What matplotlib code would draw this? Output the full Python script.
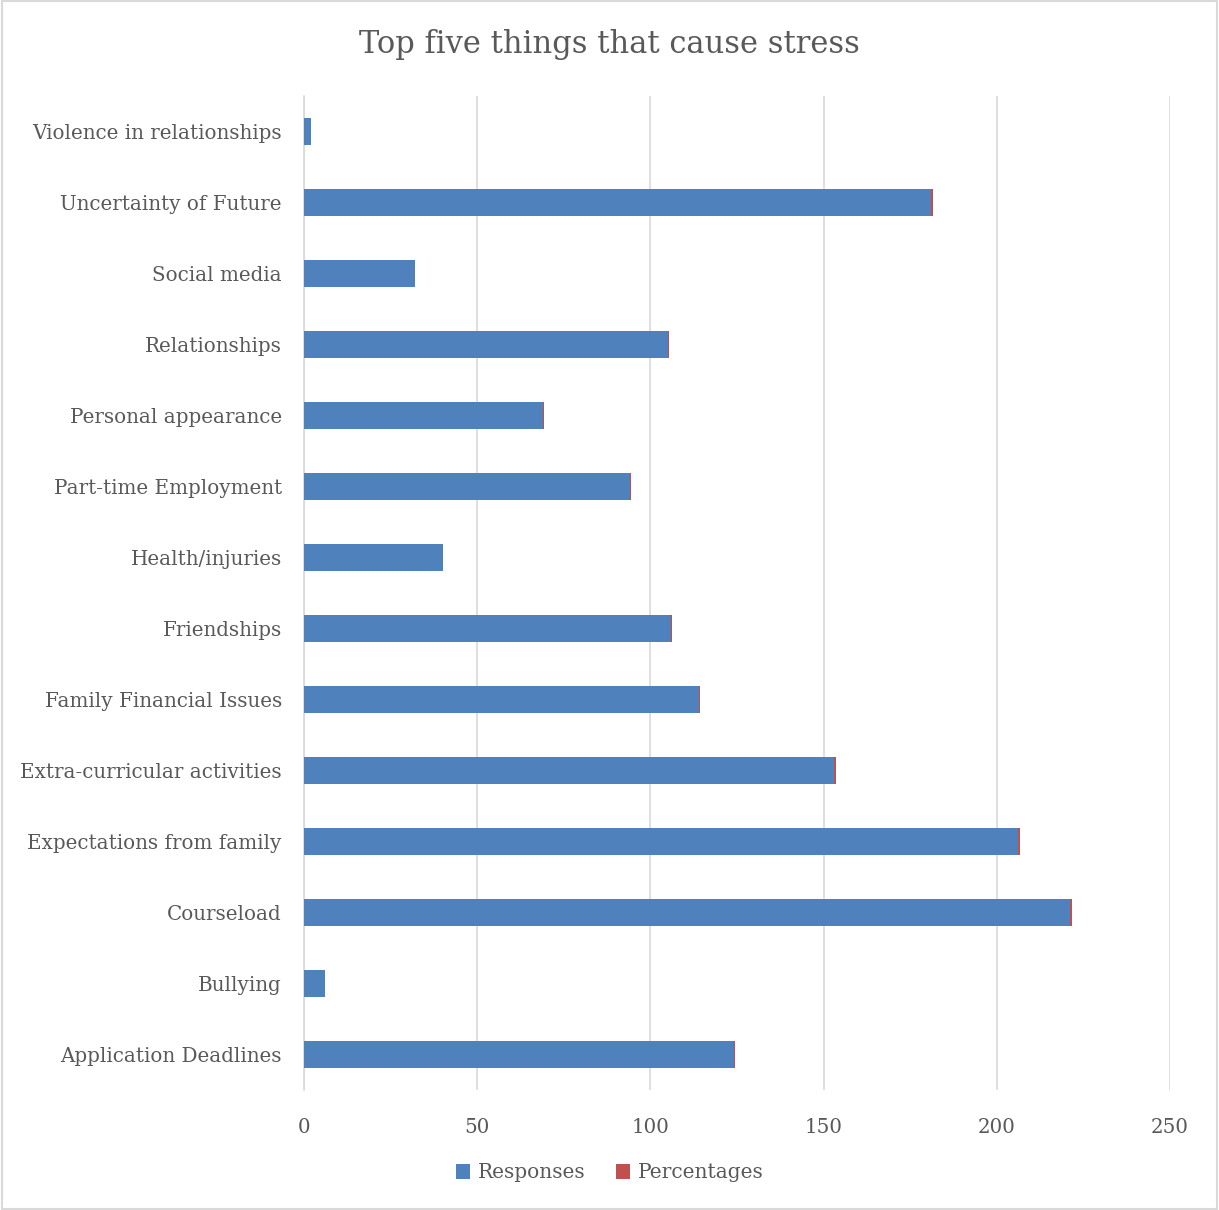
import matplotlib.pyplot as plt
from matplotlib.patches import Rectangle

categories = ["Application Deadlines", "Bullying", "Courseload", "Expectations from family",
              "Extra-curricular activities", "Family Financial Issues", "Friendships",
              "Health/injuries", "Part-time Employment", "Personal appearance",
              "Relationships", "Social media", "Uncertainty of Future", "Violence in relationships"]
responses = [124, 6, 221, 206, 153, 114, 106, 40, 94, 69, 105, 32, 181, 2]
percentages = [0.42, 0.02, 0.75, 0.70, 0.52, 0.39, 0.36, 0.14, 0.32, 0.23, 0.36, 0.11, 0.61, 0.01]

blue = "#4F81BD"
red = "#C0504D"
grey = "#595959"

plt.rcParams['font.family'] = ['DejaVu Serif']

fig = plt.figure(figsize=(12.19, 12.10), dpi=100)
ax = fig.add_axes([304 / 1219, 1 - 1090 / 1210, 866 / 1219, 994 / 1210])

ax.barh(categories, responses, height=0.39, color=blue, label="Responses", zorder=3)
ax.barh(categories, percentages, left=responses, height=0.39, color=red, label="Percentages", zorder=3)

ax.set_xlim(0, 250)
ax.set_ylim(-0.5, len(categories) - 0.5)
ax.set_xticks(range(0, 251, 50))
ax.grid(axis="x", color="#D9D9D9", linewidth=1.2, zorder=0)
for s in ["top", "right", "bottom"]:
    ax.spines[s].set_visible(False)
ax.spines["left"].set_color("#D9D9D9")
ax.spines["left"].set_linewidth(1.2)
ax.tick_params(axis="both", length=0, labelsize=14.3, colors=grey)
ax.tick_params(axis="y", pad=16)
ax.tick_params(axis="x", pad=20)

fig.text(0.5, 1 - 45 / 1210, "Top five things that cause stress", ha="center", va="center",
         fontsize=22, color=grey)

fig.legend(loc="center", bbox_to_anchor=(0.5, 1 - 1173 / 1210), ncol=2, frameon=False,
           fontsize=14.5, labelcolor=grey, handlelength=0.7, handleheight=0.7,
           handletextpad=0.4, columnspacing=1.5)

fig.patches.append(Rectangle((0.002, 0.001), 0.996, 0.998, transform=fig.transFigure,
                             fill=False, edgecolor="#D9D9D9", linewidth=1.5))

fig.savefig("out.png", dpi=100)
